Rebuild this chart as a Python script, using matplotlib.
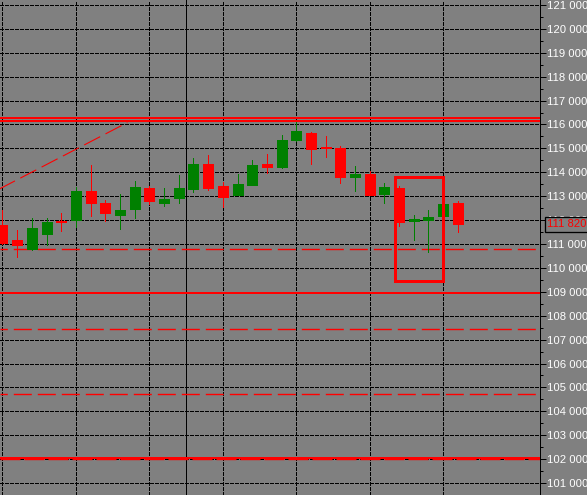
import matplotlib
matplotlib.use('Agg')
import matplotlib.pyplot as plt
from matplotlib.patches import Rectangle
import numpy as np

plt.rcParams['lines.scale_dashes'] = False
plt.rcParams['font.family'] = ['Liberation Sans', 'DejaVu Sans']

# ---- data ----
opens  = [111810, 111160, 110790, 111410, 111950, 111990, 113220, 112720, 112200, 112450,
          113340, 112720, 112940, 113320, 114340, 113430, 113050, 113470, 114340, 114210,
          115330, 115660, 115040, 115000, 113800, 113920, 113100, 113340, 111950, 111990,
          112160, 112720]
highs  = [112420, 111580, 112100, 112100, 112310, 113370, 114300, 112850, 113100, 113630,
          113440, 113340, 113880, 114590, 114710, 113590, 113920, 114500, 114750, 115580,
          116120, 115670, 115500, 115120, 114250, 114050, 113550, 113430, 112230, 112430,
          112700, 112780]
lows   = [111020, 110450, 110750, 110960, 111540, 111730, 112160, 111970, 111620, 112070,
          112680, 112570, 112720, 113190, 113260, 112560, 113040, 113460, 113970, 114200,
          115320, 114340, 114630, 113550, 113220, 113050, 112720, 111740, 111160, 110670,
          112150, 111500]
closes = [111030, 110940, 111650, 111900, 111930, 113220, 112700, 112280, 112430, 113390,
          112780, 112890, 113340, 114340, 113340, 112970, 113510, 114300, 114210, 115330,
          115740, 114960, 115020, 113800, 113920, 113060, 113390, 111910, 112060, 112120,
          112680, 111820]

price_ticks = list(range(101000, 122000, 1000))
tick_labels = [f"{v // 1000} {v % 1000:03d}" for v in price_ticks]
minor_ticks = list(range(100500, 121500, 1000))

grid_bar_index = [0, 5, 10, 15, 20, 25, 30]
separator_index = 12.5
resistance_double = [116250, 116130]
support_solid = 108960
dashed_levels = [110810, 107450, 104710]
bottom_solid = 102050
bottom_dashed = 101990
trend_x = [-1, 8.5]
trend_y = [113050, 116080]
box_x = [26.7, 30.0]
box_y = [109460, 113810]
current_price = 111820
current_label = "111 820"

# ---- styling ----
W, H = 587, 495
PX = 0.72  # one pixel in points at dpi 100
GRAY = '#808080'
RED = '#ff0000'
GREEN = '#008000'
FS = 8.1

fig = plt.figure(figsize=(W / 100, H / 100), dpi=100, facecolor=GRAY)
ax = fig.add_axes([0, 0, 539.5 / W, 1])
ax.set_facecolor(GRAY)
ax.set_xlim(-0.17, 36.56)
ax.set_ylim(100710, 121207)

for s in ['top', 'bottom', 'left']:
    ax.spines[s].set_visible(False)
ax.spines['right'].set_color('black')
ax.spines['right'].set_linewidth(1 * PX)

ax.set_xticks([])
ax.yaxis.tick_right()
ax.set_yticks(price_ticks)
ax.set_yticklabels(tick_labels)
ax.set_yticks(minor_ticks, minor=True)
ax.tick_params(axis='y', which='major', direction='out', length=6 * PX, width=1 * PX,
               color='black', labelcolor='white', labelsize=FS, pad=0.8)
ax.tick_params(axis='y', which='minor', direction='out', length=3 * PX, width=1 * PX,
               color='black')

grid_dash = (0, (3 * PX, 2 * PX))
for v in price_ticks:
    ax.axhline(v, color='black', lw=1 * PX, linestyle=grid_dash, zorder=1, antialiased=False)
for i in grid_bar_index:
    ax.axvline(i, color='black', lw=1 * PX, linestyle=grid_dash, zorder=1, antialiased=False)
ax.axvline(separator_index, color='black', lw=1 * PX, zorder=1.5, antialiased=False)

# horizontal levels
for v in resistance_double:
    ax.axhline(v, color=RED, lw=2 * PX, zorder=2, antialiased=False)
ax.axhline(support_solid, color=RED, lw=2 * PX, zorder=2, antialiased=False)
red_dash = (10.7 * PX, (18 * PX, 6 * PX))
for v in dashed_levels:
    ax.axhline(v, color=RED, lw=1.4 * PX, linestyle=red_dash, zorder=2)
ax.axhline(bottom_solid, color=RED, lw=2 * PX, zorder=2, antialiased=False)
ax.axhline(bottom_dashed, color=RED, lw=1.4 * PX, linestyle=(0, (20 * PX, 4 * PX)), zorder=2)

# trend line
ax.plot(trend_x, trend_y, color=RED, lw=1.1 * PX, linestyle=(0, (18 * PX, 6 * PX)), zorder=2)

# candles
n = len(opens)
x = np.arange(n)
o = np.array(opens); c = np.array(closes)
cols = [GREEN if cc >= oo else RED for oo, cc in zip(opens, closes)]
ax.vlines(x, lows, highs, colors=cols, lw=1 * PX, zorder=3, antialiased=False)
ax.bar(x, np.abs(c - o), bottom=np.minimum(o, c), width=10 / 14.69, color=cols,
       edgecolor=cols, linewidth=1 * PX, zorder=4, antialiased=False)

# highlight rectangle
ax.add_patch(Rectangle((box_x[0], box_y[0]), box_x[1] - box_x[0], box_y[1] - box_y[0],
                       fill=False, edgecolor=RED, lw=3 * PX, zorder=5, antialiased=False))

# current price box
y_disp = ax.transData.transform((0, current_price))[1]
fig.add_artist(Rectangle((544.5 / W, (y_disp - 7.5) / H), 60 / W, 15 / H,
                         transform=fig.transFigure, facecolor=GRAY, edgecolor='black',
                         lw=1.3 * PX, zorder=5))
fig.text(547 / W, y_disp / H, current_label, color=RED, fontsize=FS, va='center',
         ha='left', zorder=6)

fig.savefig('out.png', dpi=100, facecolor=GRAY)
